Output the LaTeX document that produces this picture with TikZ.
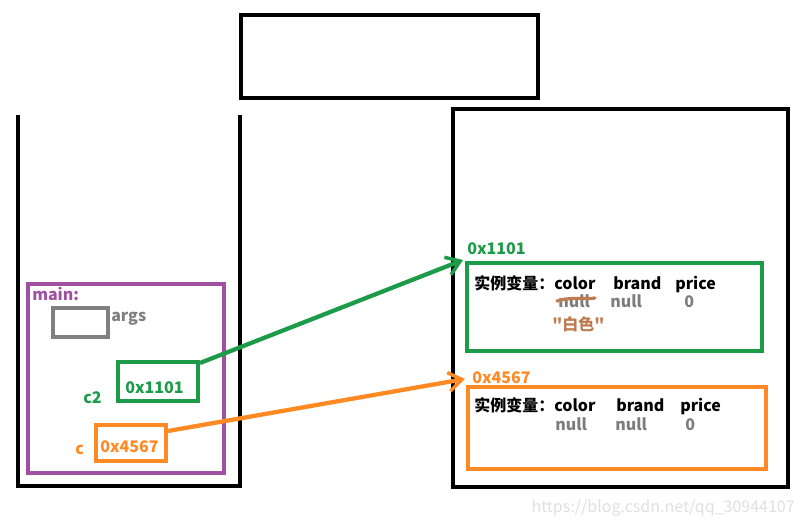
\documentclass[tikz,border=0pt]{standalone}
\usepackage{fontspec}
\setmainfont{Noto Sans CJK SC}
\newfontfamily\qfont{Noto Sans CJK SC}[Ligatures=TeXOff]
\usetikzlibrary{fit,arrows.meta,calc}
\definecolor{cgreen}{RGB}{28,155,72}
\definecolor{corange}{RGB}{255,138,36}
\definecolor{cpurple}{RGB}{160,80,160}
\definecolor{cgray}{RGB}{128,128,128}
\definecolor{cval}{RGB}{125,125,125}
\definecolor{cbrown}{RGB}{192,124,80}
\begin{document}
\begin{tikzpicture}[x=0.75pt,y=-0.75pt,
  frame/.style={draw,line width=3pt,inner sep=0pt},
  txt/.style={anchor=base west,inner sep=0pt,font=\fontsize{12}{14}\selectfont\bfseries},
  val/.style={txt,text=cval},
  ptr/.style={line width=3.2pt,-{Straight Barb[length=10pt,width=14pt,line width=2.6pt]}}]
\useasboundingbox (0,0) rectangle (804,523);
\fill[white] (0,0) rectangle (804,523);
% top box
\node[frame,fit={(241,15)(538,98)}] (top) {};
% stack
\coordinate (stl) at (18,115);
\coordinate (str) at (240,115);
\draw[line width=3pt] (stl) -- (18,486) -- (240,486) -- (str);
% heap
\node[frame,fit={(453,109)(788,487)}] (heap) {};
% main frame
\node[frame,draw=cpurple,fit={(28,284)(224,473)}] (main) {};
\node[txt,text=cpurple] (mainl) at (32,301) {main:};
\node[frame,draw=cgray,fit={(53,308)(108,337)}] (args) {};
\node[txt,text=cgray] (argsl) at (111,322) {args};
% c2
\node[frame,draw=cgreen,fit={(118,362)(198,401)}] (g) {};
\node[txt,text=cgreen] (gl) at (125,394) {0x1101};
\node[txt,text=cgreen] (c2) at (83,404) {c2};
% c
\node[frame,draw=corange,fit={(96,425)(166,461)}] (o) {};
\node[txt,text=corange] (ol) at (100,453) {0x4567};
\node[txt,text=corange] (cl) at (75,455) {c};
% heap objects
\node[frame,draw=cgreen,fit={(467,263)(762,351)}] (hg) {};
\node[txt,text=cgreen] (hgl) at (467,255) {0x1101};
\node[txt] (hg1) at (474,290) {实例变量：color};
\node[txt] (hg2) at (613,290) {brand};
\node[txt] (hg3) at (675,290) {price};
\node[val] (hgv1) at (558,308) {null};
\node[val] (hgv2) at (610,308) {null};
\node[val] (hgv3) at (684,308) {0};
\draw[cbrown,line width=2.4pt,line cap=round] (557,301) .. controls (575,296) and (585,300) .. (595,298);
\node[txt,text=cbrown] (white) at (552,331) {\qfont\bfseries "白色"};
\node[frame,draw=corange,fit={(468,387)(766,469)}] (ho) {};
\node[txt,text=corange] (hol) at (472,384) {0x4567};
\node[txt] (ho1) at (474,412) {实例变量：color};
\node[txt] (ho2) at (616,412) {brand};
\node[txt] (ho3) at (680,412) {price};
\node[val] (hov1) at (555,431) {null};
\node[val] (hov2) at (615,431) {null};
\node[val] (hov3) at (685,431) {0};
% pointers
\draw[ptr,draw=cgreen] ($(g.north east)+(0,3)$) -- ($(hg.north west)+(-2,-1)$);
\draw[ptr,draw=corange] ($(o.north east)+(0,8)$) -- ($(ho.north west)+(-1,-6)$);
% watermark
\node[anchor=base east,inner sep=0pt,text=black!12,font=\fontsize{12}{14}\selectfont] (wm) at (795,513) {https://blog.csdn.net/qq\_30944107};
\end{tikzpicture}
\end{document}
